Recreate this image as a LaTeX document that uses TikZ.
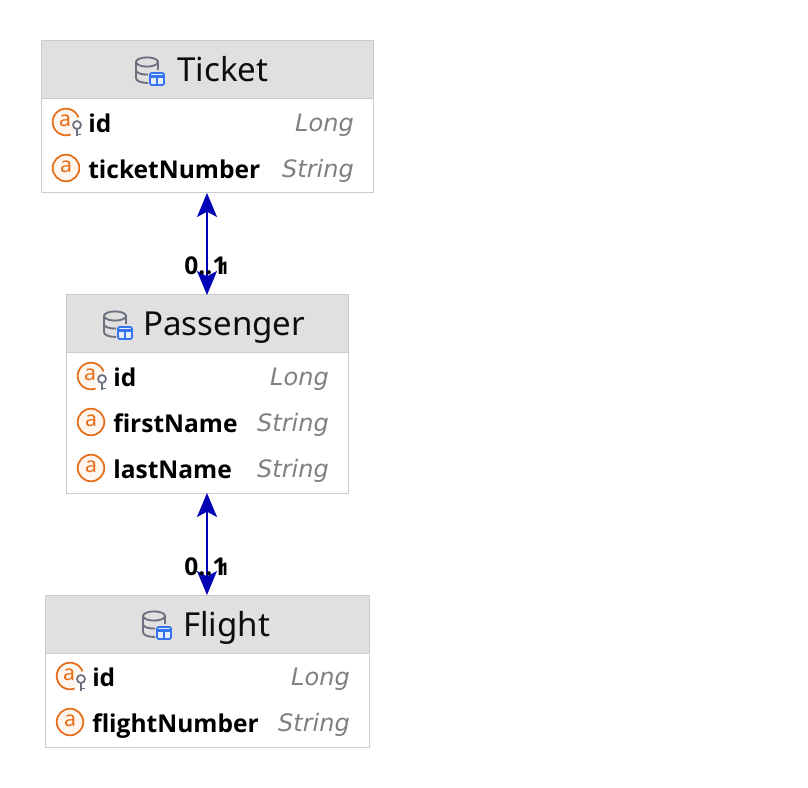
\documentclass[tikz,border=0pt]{standalone}
\usepackage{fontspec}
\setmainfont{Noto Sans}
\newfontfamily\namefont{Open Sans}
\newfontfamily\typefont{DejaVu Sans}
\usetikzlibrary{arrows.meta}
\definecolor{hdr}{HTML}{E0E0E0}
\definecolor{edge}{HTML}{CCCCCC}
\definecolor{iconGrey}{HTML}{6C707E}
\definecolor{iconBlue}{HTML}{3574F0}
\definecolor{iconBlueFill}{HTML}{E7EFFD}
\definecolor{attrOrange}{HTML}{E66D17}
\definecolor{attrFill}{HTML}{FFF6EF}
\definecolor{typeGrey}{HTML}{808080}
\definecolor{link}{HTML}{0000B4}
\tikzset{
  x=0.75pt,y=-0.75pt,
  tablebox/.style={draw=edge,line width=0.75pt,fill=white,inner sep=0pt,outer sep=0pt},
  headbox/.style={draw=edge,line width=0.75pt,fill=hdr,inner sep=0pt,outer sep=0pt},
  titletext/.style={anchor=base west,inner sep=0pt,font=\fontsize{24.8}{28}\selectfont,text=black!95},
  nametext/.style={anchor=base west,inner sep=0pt,yshift=-0.4pt,font=\namefont\fontsize{18.4}{20}\selectfont\bfseries,text=black},
  typetext/.style={anchor=base east,inner sep=0pt,font=\typefont\fontsize{18}{20}\selectfont\itshape,text=typeGrey},
  cardtext/.style={anchor=base west,inner sep=0pt,font=\namefont\fontsize{18.4}{20}\selectfont\bfseries,text=black},
  cardsmall/.style={anchor=base west,inner sep=0pt,font=\namefont\fontsize{13}{16}\selectfont\bfseries,text=black},
  relation/.style={draw=link,line width=1.1pt,{Stealth[length=18pt,width=15pt,inset=4pt]}-{Stealth[length=18pt,width=15pt,inset=4pt]}},
  pics/attr/.style={code={
    \draw[attrOrange,fill=attrFill,line width=1.3pt] (0,0) circle[radius=13.3];
    \node[inner sep=0pt,text=attrOrange,font=\fontsize{16}{16}\selectfont] (glyph) at (0,-0.8) {a};
  }},
  pics/keyattr/.style={code={
    \fill[attrFill] (0,0) circle[radius=13.3];
    \draw[attrOrange,line width=1.3pt] plot[smooth,domain=70:340,samples=40] ({13.3*cos(\x)},{13.3*sin(\x)});
    \node[inner sep=0pt,text=attrOrange,font=\fontsize{16}{16}\selectfont] (glyph) at (-1,-0.8) {a};
    \draw[iconGrey,fill=white,line width=1.3pt] (11,3) circle[radius=4];
    \draw[iconGrey,line width=1.3pt] (11,7) -- (11,14.5) (11,12.5) -- (15,12.5);
  }},
  pics/dbicon/.style={code={
    \draw[iconGrey,line width=1.4pt] (0,-8) ellipse[x radius=11,y radius=4.6];
    \draw[iconGrey,line width=1.4pt] (-11,-8) -- (-11,8) .. controls (-11,11) and (-6,13) .. (1,13);
    \draw[iconGrey,line width=1.4pt] (-11,0) .. controls (-11,3) and (-6,4.6) .. (1,4.6);
    \draw[iconGrey,line width=1.4pt] (11,-8) -- (11,0);
    \draw[iconBlue,fill=iconBlueFill,line width=1.4pt,rounded corners=1pt] (3,3) rectangle (17,15);
    \draw[iconBlue,line width=1.6pt] (3,6.5) -- (17,6.5);
    \draw[iconBlue,line width=1.2pt] (10,6.5) -- (10,15);
  }},
}
\begin{document}
\begin{tikzpicture}
\useasboundingbox (0,0) rectangle (808,788);
% Ticket
\node[tablebox,minimum width=249pt,minimum height=114pt] (ticket) at (207,117) {};
\node[headbox,minimum width=249pt,minimum height=43.5pt] (tickethead) at (207,70) {};
\pic (ticketdb) at (147,70) {dbicon};
\node[titletext] (tickettitle) at (177,82) {Ticket};
\pic (ticketidicon) at (66,122) {keyattr};
\node[nametext] (ticketid) at (88,131.5) {id};
\node[typetext] (ticketidtype) at (354,131.5) {Long};
\pic (ticketnumicon) at (66,168) {attr};
\node[nametext] (ticketnum) at (88,177.5) {ticketNumber};
\node[typetext] (ticketnumtype) at (354,177.5) {String};
% Passenger
\node[tablebox,minimum width=211.5pt,minimum height=148.5pt] (passenger) at (207,394) {};
\node[headbox,minimum width=211.5pt,minimum height=43.5pt] (passengerhead) at (207,324) {};
\pic (passengerdb) at (115,324) {dbicon};
\node[titletext] (passengertitle) at (143,336) {Passenger};
\pic (passengeridicon) at (91,376) {keyattr};
\node[nametext] (passengerid) at (113,385.5) {id};
\node[typetext] (passengeridtype) at (329,385.5) {Long};
\pic (passengerfirsticon) at (91,422) {attr};
\node[nametext] (passengerfirst) at (113,431.5) {firstName};
\node[typetext] (passengerfirsttype) at (329,431.5) {String};
\pic (passengerlasticon) at (91,468) {attr};
\node[nametext] (passengerlast) at (113,477.5) {lastName};
\node[typetext] (passengerlasttype) at (329,477.5) {String};
% Flight
\node[tablebox,minimum width=243pt,minimum height=114pt] (flight) at (207,671) {};
\node[headbox,minimum width=243pt,minimum height=43.5pt] (flighthead) at (207,624) {};
\pic (flightdb) at (154,624) {dbicon};
\node[titletext] (flighttitle) at (183,636) {Flight};
\pic (flightidicon) at (70,676) {keyattr};
\node[nametext] (flightid) at (92,685.5) {id};
\node[typetext] (flightidtype) at (350,685.5) {Long};
\pic (flightnumicon) at (70,722) {attr};
\node[nametext] (flightnum) at (92,731.5) {flightNumber};
\node[typetext] (flightnumtype) at (350,731.5) {String};
% Relations
\draw[relation] (ticket.south) -- (passengerhead.north);
\draw[relation] (passenger.south) -- (flighthead.north);
\node[cardtext] (card1a) at (184,275) {0..1};
\node[cardsmall] (card1b) at (219,275) {1};
\node[cardtext] (card2a) at (184,575) {0..1};
\node[cardsmall] (card2b) at (219,575) {1};
\end{tikzpicture}
\end{document}
